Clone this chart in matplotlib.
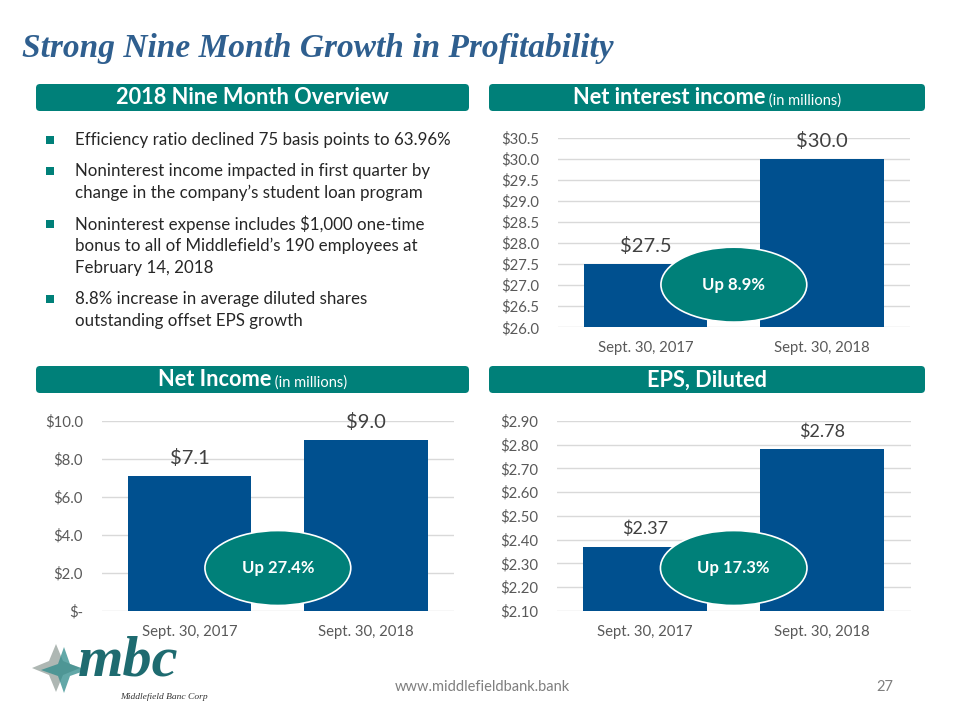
import matplotlib
matplotlib.use("Agg")
import matplotlib.pyplot as plt
from matplotlib.patches import FancyBboxPatch, Ellipse, Polygon, Rectangle

# data
categories = ["Sept. 30, 2017", "Sept. 30, 2018"]
nii = [27.5, 30.0]
net_income = [7.1, 9.0]
eps = [2.37, 2.78]
growth = ["Up 8.9%", "Up 27.4%", "Up 17.3%"]

bullets = [
    ["Efficiency ratio declined 75 basis points to 63.96%"],
    ["Noninterest income impacted in first quarter by",
     "change in the company\u2019s student loan program"],
    ["Noninterest expense includes $1,000 one-time",
     "bonus to all of Middlefield\u2019s 190 employees at",
     "February 14, 2018"],
    ["8.8% increase in average diluted shares",
     "outstanding offset EPS growth"],
]

TEAL = "#008079"
BLUE = "#00508F"
TITLE = "#2F5F8F"
FONT = "Lato"

fig = plt.figure(figsize=(9.6, 7.2), dpi=100)
bg = fig.add_axes([0, 0, 1, 1])
bg.set_xlim(0, 960)
bg.set_ylim(720, 0)
bg.axis("off")
bg.set_zorder(0)
renderer = fig.canvas.get_renderer()

bg.text(22, 49, "Strong Nine Month Growth in Profitability", family="Liberation Serif",
        style="italic", weight="bold", fontsize=24, color=TITLE, va="center")


def header(x0, x1, y0, main, small=None):
    bg.add_patch(FancyBboxPatch((x0, y0), x1 - x0, 27, boxstyle="round,pad=0,rounding_size=4",
                                fc=TEAL, ec="none"))
    yb = y0 + 20.5
    t1 = bg.text(0, yb, main, family=FONT, weight="bold", fontsize=15.7, color="white", va="baseline")
    w1 = t1.get_window_extent(renderer).width
    w2 = 0
    t2 = None
    if small:
        t2 = bg.text(0, yb, " " + small, family=FONT, fontsize=10.5, color="white", va="baseline")
        w2 = t2.get_window_extent(renderer).width
    start = (x0 + x1) / 2 - (w1 + w2) / 2
    t1.set_x(start)
    if t2 is not None:
        t2.set_x(start + w1)


header(36, 469, 84, "2018 Nine Month Overview")
header(489, 925, 84, "Net interest income", "(in millions)")
header(36, 469, 366, "Net Income", "(in millions)")
header(489, 925, 366, "EPS, Diluted")

# bullets
y = 140
for lines in bullets:
    bg.add_patch(Rectangle((46, y - 4), 7.5, 7.5, fc=TEAL, ec="none"))
    for line in lines:
        bg.text(75, y, line, family=FONT, fontsize=12.2, color="#262626", va="center")
        y += 22
    y += 9


def bar_chart(rect, values, ylim, ticks, fmt, lab_fmt, lab_size, label):
    ax = fig.add_axes(rect)
    ax.set_zorder(1)
    ax.patch.set_visible(False)
    x = range(len(categories))
    ax.bar(x, values, width=0.7, color=BLUE, zorder=2)
    ax.set_xlim(-0.5, 1.5)
    ax.set_ylim(*ylim)
    ax.set_yticks(ticks)
    ax.set_yticklabels([fmt(t) for t in ticks])
    ax.set_xticks(list(x))
    ax.set_xticklabels(categories)
    ax.yaxis.grid(True, color="#D9D9D9", linewidth=1, zorder=0)
    ax.set_axisbelow(True)
    for s in ax.spines.values():
        s.set_visible(False)
    ax.tick_params(axis="y", length=0, pad=13.5, labelsize=10.7, labelcolor="#595959")
    ax.tick_params(axis="x", length=0, pad=10, labelsize=10.7, labelcolor="#595959")
    for lab in ax.get_xticklabels() + ax.get_yticklabels():
        lab.set_family(FONT)
    for xi, v in zip(x, values):
        ax.annotate(lab_fmt(v), (xi, v), xytext=(0, 13), textcoords="offset points",
                    ha="center", va="center", fontsize=lab_size, color="#404040", family=FONT)
    ax.add_patch(Ellipse((0.5, 0.225), 0.414, 0.395, transform=ax.transAxes, fc=TEAL,
                         ec="white", lw=1.2, zorder=5, clip_on=False))
    ax.text(0.5, 0.225, label, transform=ax.transAxes, ha="center", va="center",
            fontsize=12, weight="bold", color="white", family=FONT, zorder=6)
    return ax


nii_ticks = [26.0 + 0.5 * i for i in range(10)]
bar_chart([557.7 / 960, 1 - 327.3 / 720, 352.3 / 960, 189.6 / 720], nii, (26.0, 30.5), nii_ticks,
          lambda t: f"${t:.1f}", lambda v: f"${v:.1f}", 14.5, growth[0])

ni_ticks = [0, 2, 4, 6, 8, 10]
bar_chart([101.7 / 960, 1 - 610.7 / 720, 352.3 / 960, 189.7 / 720], net_income, (0, 10), ni_ticks,
          lambda t: "$-" if t == 0 else f"${t:.1f}", lambda v: f"${v:.1f}", 14.5, growth[1])

eps_ticks = [2.10 + 0.1 * i for i in range(9)]
bar_chart([556.7 / 960, 1 - 610.7 / 720, 354 / 960, 189.7 / 720], eps, (2.10, 2.90), eps_ticks,
          lambda t: f"${t:.2f}", lambda v: f"${v:.2f}", 13, growth[2])

# footer
bg.text(482, 687, "www.middlefieldbank.bank", family=FONT, fontsize=10.5, color="#7F7F7F",
        ha="center", va="center")
bg.text(885, 687, "27", family=FONT, fontsize=10.5, color="#7F7F7F", ha="center", va="center")

# logo
def star(cx, cy, r, w, color, alpha):
    pts = [(cx, cy - r), (cx + w, cy - w), (cx + r, cy), (cx + w, cy + w),
           (cx, cy + r), (cx - w, cy + w), (cx - r, cy), (cx - w, cy - w)]
    bg.add_patch(Polygon(pts, closed=True, fc=color, ec="none", alpha=alpha))

star(56, 668, 24, 7, "#9AA5A0", 0.8)
star(64, 670, 23, 6, "#2E8B8B", 0.75)
bg.text(78, 676, "mbc", family="Liberation Serif", style="italic", weight="bold", fontsize=42,
        color="#1E6B70", va="baseline")
bg.text(120, 697, "Middlefield Banc Corp", family="Liberation Serif", style="italic",
        fontsize=6.8, color="#333333", va="center")

fig.savefig("out.png", dpi=100)
